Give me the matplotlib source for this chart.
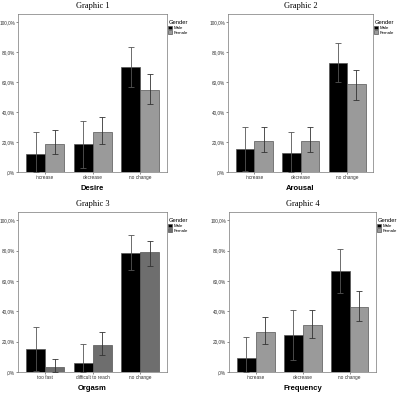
import matplotlib
matplotlib.use("Agg")
import matplotlib.pyplot as plt
import numpy as np
from matplotlib.ticker import FuncFormatter

titles = ["Graphic 1", "Graphic 2", "Graphic 3", "Graphic 4"]
xlabels = ["Desire", "Arousal", "Orgasm", "Frequency"]
categories = [
    ["increase", "decrease", "no change"],
    ["increase", "decrease", "no change"],
    ["too fast", "difficult to reach", "no change"],
    ["increase", "decrease", "no change"],
]
male = [
    [12.2, 18.5, 70.0],
    [15.5, 12.4, 73.0],
    [15.1, 5.9, 78.7],
    [9.2, 24.3, 66.7],
]
male_lo = [
    [0.0, 3.0, 56.5],
    [1.0, 0.0, 60.0],
    [0.5, 0.0, 67.0],
    [0.0, 8.0, 52.0],
]
male_hi = [
    [26.7, 34.0, 83.5],
    [30.3, 26.5, 86.0],
    [30.0, 18.2, 90.5],
    [22.8, 40.7, 81.0],
]
female = [
    [18.9, 26.7, 55.0],
    [21.0, 21.0, 58.5],
    [3.3, 17.5, 79.2],
    [26.3, 30.9, 43.0],
]
female_lo = [
    [11.8, 18.6, 45.2],
    [13.6, 13.6, 48.4],
    [0.0, 11.0, 70.2],
    [18.4, 22.5, 33.5],
]
female_hi = [
    [28.0, 36.5, 65.5],
    [30.3, 30.3, 68.4],
    [8.6, 26.3, 86.6],
    [36.3, 41.1, 53.5],
]
female_colors = ["#9a9a9a", "#9a9a9a", "#6e6e6e", "#9a9a9a"]
yticks = [0, 20, 40, 60, 80, 100]

W, H = 400, 393
fig = plt.figure(figsize=(W / 100, H / 100), dpi=100)
fig.patch.set_facecolor("white")

boxes = [
    (18, 14, 167, 172),
    (228, 14, 373, 172),
    (18, 212, 167, 372),
    (229, 212, 376, 372),
]

def fmt(v, pos):
    if v == 0:
        return ",0%"
    return ("%.1f" % v).replace(".", ",") + "%"

for i in range(4):
    x0, y0, x1, y1 = boxes[i]
    ax = fig.add_axes([x0 / W, 1 - y1 / H, (x1 - x0) / W, (y1 - y0) / H])
    x = np.arange(3)
    bw = 0.4
    m = np.array(male[i]); f = np.array(female[i])
    ax.bar(x - bw / 2, m, bw, color="black", edgecolor="#555555", linewidth=0.5, label="Male", zorder=2)
    ax.bar(x + bw / 2, f, bw, color=female_colors[i], edgecolor="#555555", linewidth=0.5, label="Female", zorder=2)
    ax.errorbar(x - bw / 2, m, yerr=[m - np.array(male_lo[i]), np.array(male_hi[i]) - m],
                fmt="none", ecolor="#555555", elinewidth=0.6, capsize=2.2, capthick=0.6, zorder=3)
    ax.errorbar(x + bw / 2, f, yerr=[f - np.array(female_lo[i]), np.array(female_hi[i]) - f],
                fmt="none", ecolor="#333333", elinewidth=0.6, capsize=2.2, capthick=0.6, zorder=3)
    ax.set_xlim(-0.57, 2.56)
    ax.set_ylim(0, 105.5)
    ax.set_yticks(yticks)
    ax.yaxis.set_major_formatter(FuncFormatter(fmt))
    ax.set_xticks(x)
    ax.set_xticklabels(categories[i])
    ax.tick_params(axis="both", labelsize=3.4, length=1.2, width=0.4, pad=1.0, colors="#333333")
    for lab in ax.get_xticklabels() + ax.get_yticklabels():
        lab.set_family("Liberation Sans")
    for s in ax.spines.values():
        s.set_linewidth(0.5)
        s.set_color("#777777")
    ax.set_xlabel(xlabels[i], fontsize=5.5, fontweight="bold", labelpad=3.5, family="Liberation Sans")
    ax.set_title(titles[i], fontsize=6, family="Liberation Serif", pad=4)
    leg = ax.legend(title="Gender", loc="upper left", bbox_to_anchor=(1.0, 0.97), frameon=False,
                    prop={"family": "Liberation Sans", "size": 3.2},
                    handlelength=0.9, handleheight=0.9,
                    handletextpad=0.3, labelspacing=0.1, borderpad=0.2, borderaxespad=0.1)
    leg.get_title().set_fontsize(4.2)
    leg.get_title().set_family("Liberation Sans")
    leg._legend_box.align = "left"

fig.savefig("out.png", dpi=100, facecolor="white")
